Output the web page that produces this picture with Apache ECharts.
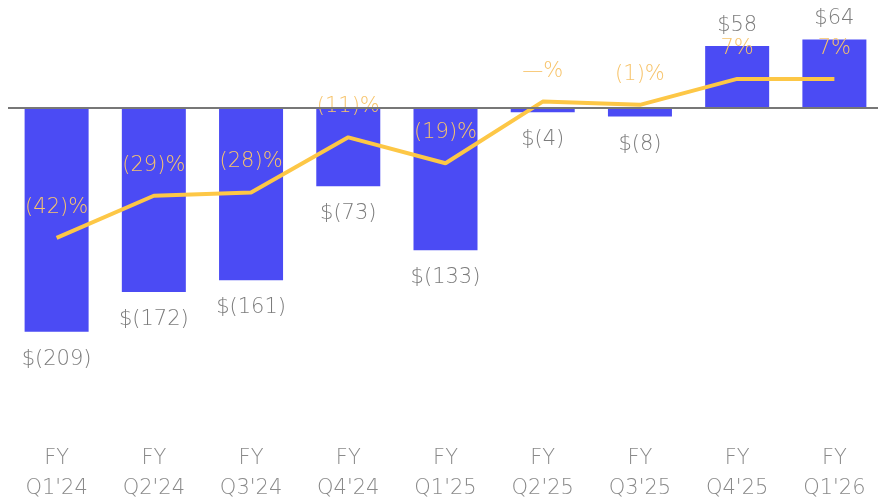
<!DOCTYPE html>
<html>
<head>
<meta charset="utf-8">
<script src="https://cdn.jsdelivr.net/npm/echarts@6/dist/echarts.min.js"></script>
<style>
html,body{margin:0;padding:0;background:#fff;}
#chart{width:878px;height:498px;}
</style>
</head>
<body>
<div id="chart"></div>
<script>
var categories = ["FY\nQ1'24","FY\nQ2'24","FY\nQ3'24","FY\nQ4'24","FY\nQ1'25","FY\nQ2'25","FY\nQ3'25","FY\nQ4'25","FY\nQ1'26"];
var barValues = [-209, -172, -161, -73, -133, -4, -8, 58, 64];
var marginValues = [-42, -29, -28, -11, -19, 0, -1, 7, 7];

function money(v){ return v < 0 ? '$(' + Math.abs(v) + ')' : '$' + v; }
function pct(v){ if (v === 0) return '\u2014%'; return v < 0 ? '(' + Math.abs(v) + ')%' : v + '%'; }

var FONT = "'DejaVu Sans', 'Open Sans', sans-serif";
var chart = echarts.init(document.getElementById('chart'));
chart.setOption({
  animation: false,
  grid: { left: 8, width: 875, top: 1, height: 396, outerBoundsMode: 'none', containLabel: false },
  xAxis: {
    type: 'category',
    data: categories,
    axisLine: { show: false },
    axisTick: { show: false },
    axisLabel: { margin: 47, fontFamily: FONT, fontWeight: 200, fontSize: 21, lineHeight: 30, color: '#8a8a8a' }
  },
  yAxis: [
    { type: 'value', min: -270, max: 100, show: false, splitLine: { show: false } },
    { type: 'value', min: -91, max: 31, show: false, splitLine: { show: false } }
  ],
  series: [
    {
      type: 'bar',
      data: barValues.map(function(v){
        return { value: v, label: { position: v < 0 ? 'bottom' : 'top', distance: v < 0 ? 17 : 10 } };
      }),
      barWidth: 64,
      itemStyle: { color: '#4b4bf4' },
      label: {
        show: true, fontFamily: FONT, fontWeight: 200, fontSize: 21, color: '#7c7c7c',
        formatter: function(p){ return money(p.value); }
      },
      markLine: {
        silent: true, symbol: 'none', label: { show: false },
        lineStyle: { color: '#777777', width: 2, type: 'solid' },
        data: [{ yAxis: 0 }]
      },
      z: 2
    },
    {
      type: 'line',
      yAxisIndex: 1,
      data: marginValues,
      symbol: 'circle',
      symbolSize: 0,
      showSymbol: true,
      lineStyle: { color: '#fdc746', width: 4 },
      itemStyle: { color: '#fdc746' },
      label: {
        show: true, position: 'top', distance: 20, fontFamily: FONT, fontWeight: 200, fontSize: 21, color: '#f7c46c',
        formatter: function(p){ return pct(p.value); }
      },
      z: 3
    }
  ]
});
</script>
</body>
</html>
